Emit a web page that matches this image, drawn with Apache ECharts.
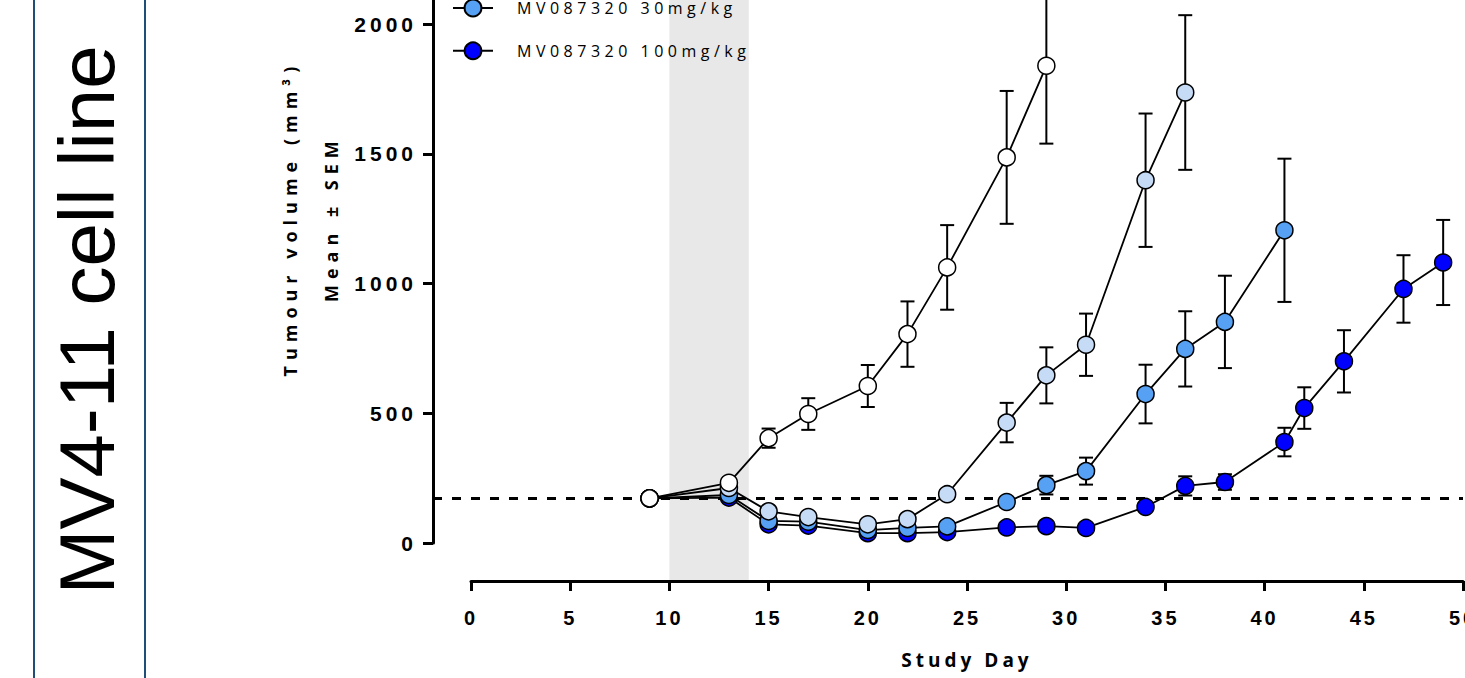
<!DOCTYPE html>
<html>
<head>
<meta charset="utf-8">
<script src="https://cdn.jsdelivr.net/npm/echarts@6/dist/echarts.min.js"></script>
<style>
  html, body { margin: 0; padding: 0; background: #fff; }
  #chart { width: 1465px; height: 678px; }
</style>
</head>
<body>
<div id="chart"></div>
<script>
// groups
var groupNames = ['Vehicle', 'MV087320 10mg/kg', 'MV087320 30mg/kg', 'MV087320 100mg/kg'];
var groupColors = ['#ffffff', '#c6dbf6', '#56a1f4', '#0000ff'];

// tumour volume, mean and SEM per study day
var vehicleDays = [9, 13, 15, 17, 20, 22, 24, 27, 29];
var vehicleMean = [172, 232, 404, 497, 605, 805, 1062, 1486, 1839];
var vehicleSem  = [0, 10, 37, 61, 81, 126, 163, 256, 300];

var dose10Days = [9, 13, 15, 17, 20, 22, 24, 27, 29, 31, 34, 36];
var dose10Mean = [172, 212, 122, 100, 72, 92, 188, 464, 646, 764, 1398, 1736];
var dose10Sem  = [0, 8, 10, 8, 6, 8, 15, 76, 108, 120, 257, 298];

var dose30Days = [9, 13, 15, 17, 20, 22, 24, 27, 29, 31, 34, 36, 38, 41];
var dose30Mean = [172, 185, 85, 82, 50, 58, 64, 158, 223, 277, 574, 748, 852, 1205];
var dose30Sem  = [0, 6, 8, 6, 5, 6, 8, 18, 36, 52, 113, 145, 178, 276];

var dose100Days = [9, 13, 15, 17, 20, 22, 24, 27, 29, 31, 34, 36, 38, 41, 42, 44, 47, 49];
var dose100Mean = [172, 175, 72, 67, 38, 38, 42, 60, 65, 58, 139, 220, 235, 389, 520, 700, 979, 1081];
var dose100Sem  = [0, 5, 6, 5, 4, 4, 5, 6, 7, 6, 12, 37, 30, 55, 80, 120, 130, 164];

var baselineVolume = 172;        // dashed reference line
var dosingWindow = [10, 14];     // shaded band
var xTickStep = 5, xMax = 50;
var yTickStep = 500, yTop = 2500;

// layout (pixels)
var W = 1465, H = 678;
var X0 = 471, X50 = 1463, Y0 = 543, Y2000 = 24;
var XAXIS_Y = 581, YAXIS_X = 433;
var pxDay = (X50 - X0) / xMax;
var pxVol = (Y0 - Y2000) / 2000;
var gridTop = Y0 - yTop * pxVol;
var gridRight = W - X50;

var groups = [
  [vehicleDays, vehicleMean, vehicleSem],
  [dose10Days, dose10Mean, dose10Sem],
  [dose30Days, dose30Mean, dose30Sem],
  [dose100Days, dose100Mean, dose100Sem]
];

function zip(days, a, b) {
  return days.map(function (d, i) { return b ? [d, a[i], b[i]] : [d, a[i]]; });
}

function renderErrorBar(params, api) {
  var x = api.value(0), m = api.value(1), s = api.value(2);
  if (!s) return null;
  var top = api.coord([x, m + s]);
  var bot = api.coord([x, m - s]);
  var hw = 7;
  var st = { stroke: '#000', lineWidth: 2 };
  return {
    type: 'group',
    children: [
      { type: 'line', shape: { x1: top[0], y1: top[1], x2: bot[0], y2: bot[1] }, style: st },
      { type: 'line', shape: { x1: top[0] - hw, y1: top[1], x2: top[0] + hw, y2: top[1] }, style: st },
      { type: 'line', shape: { x1: bot[0] - hw, y1: bot[1], x2: bot[0] + hw, y2: bot[1] }, style: st }
    ]
  };
}

var series = [];
// shaded dosing band + dashed baseline
series.push({
  type: 'line',
  name: 'ref',
  data: [],
  xAxisIndex: 0,
  yAxisIndex: 0,
  z: 1,
  markArea: {
    silent: true,
    z: 0,
    itemStyle: { color: '#e8e8e8' },
    data: [[{ xAxis: dosingWindow[0], yAxis: -(XAXIS_Y - Y0) / pxVol }, { xAxis: dosingWindow[1], yAxis: yTop }]]
  },
  markLine: {
    silent: true,
    z: 1,
    symbol: 'none',
    label: { show: false },
    lineStyle: { color: '#000', width: 3, type: [9, 10] },
    data: [{ yAxis: baselineVolume }]
  }
});

groups.forEach(function (g, i) {
  series.push({
    type: 'custom',
    name: groupNames[i] + ' SEM',
    xAxisIndex: 0,
    yAxisIndex: 0,
    z: 3,
    renderItem: renderErrorBar,
    data: zip(g[0], g[1], g[2])
  });
});

groups.forEach(function (g, i) {
  series.push({
    type: 'line',
    name: groupNames[i],
    xAxisIndex: 0,
    yAxisIndex: 0,
    z: 7 - i,
    symbol: 'circle',
    symbolSize: 17,
    data: zip(g[0], g[1]),
    lineStyle: { color: '#000', width: 1.8 },
    itemStyle: { color: groupColors[i], borderColor: '#000', borderWidth: 1.5 }
  });
});

var chart = echarts.init(document.getElementById('chart'), null, { renderer: 'svg' });

var gridBase = { containLabel: false, outerBoundsMode: 'none' };
function grid(o) { return Object.assign({}, gridBase, o); }

chart.setOption({
  animation: false,
  backgroundColor: '#fff',
  legend: {
    data: groupNames,
    orient: 'vertical',
    left: 447,
    top: -92,
    itemWidth: 40,
    itemHeight: 21,
    itemGap: 24,
    textStyle: { fontSize: 16, fontFamily: 'Open Sans', color: '#000', padding: [0, 0, 0, 19] }
  },
  grid: [
    grid({ left: YAXIS_X, right: gridRight, top: gridTop, bottom: H - XAXIS_Y }),
    grid({ left: X0, right: gridRight, top: gridTop, bottom: H - XAXIS_Y }),
    grid({ left: YAXIS_X, right: gridRight, top: gridTop, bottom: H - Y0 })
  ],
  xAxis: [
    { gridIndex: 0, type: 'value', show: false, min: -(X0 - YAXIS_X) / pxDay, max: xMax, splitLine: { show: false } },
    {
      gridIndex: 1, type: 'value', min: 0, max: xMax, interval: xTickStep,
      name: 'Study Day', nameLocation: 'middle', nameGap: 69,
      nameTextStyle: { fontSize: 19, fontWeight: 'bold', fontFamily: 'Open Sans', color: '#000' },
      axisLine: { onZero: false, lineStyle: { color: '#000', width: 3 } },
      axisTick: { length: 10, lineStyle: { color: '#000', width: 3 } },
      axisLabel: { margin: 27, fontSize: 20, fontWeight: 'bold', fontFamily: 'Liberation Sans', color: '#000' },
      splitLine: { show: false }
    },
    { gridIndex: 2, type: 'value', show: false, min: 0, max: xMax, splitLine: { show: false } }
  ],
  yAxis: [
    { gridIndex: 0, type: 'value', show: false, min: -(XAXIS_Y - Y0) / pxVol, max: yTop, splitLine: { show: false } },
    { gridIndex: 1, type: 'value', show: false, min: 0, max: 1, splitLine: { show: false } },
    {
      gridIndex: 2, type: 'value', min: 0, max: yTop, interval: yTickStep,
      name: 'Tumour volume (mm³)\nMean ± SEM', nameLocation: 'middle', nameGap: 82,
      nameTextStyle: { fontSize: 18, fontWeight: 'bold', fontFamily: 'Open Sans', color: '#000', lineHeight: 41 },
      axisLine: { onZero: false, lineStyle: { color: '#000', width: 3 } },
      axisTick: { length: 10, lineStyle: { color: '#000', width: 3 } },
      axisLabel: {
        margin: 16, fontSize: 21, fontWeight: 'bold', fontFamily: 'Liberation Sans', color: '#000',
        formatter: function (v) { return String(v); }
      },
      splitLine: { show: false }
    }
  ],
  graphic: [
    {
      type: 'rect',
      shape: { x: 34, y: -5, width: 111, height: H + 10 },
      style: { fill: 'none', stroke: '#1f4e79', lineWidth: 2 }
    },
    {
      type: 'text',
      x: 87, y: 320,
      rotation: Math.PI / 2,
      style: {
        text: 'MV4-11 cell line',
        fontSize: 78,
        fontFamily: 'Liberation Sans',
        fill: '#000',
        textAlign: 'center',
        textVerticalAlign: 'middle'
      }
    }
  ],
  series: series
});

// the original export has wide letter spacing on its small texts
var spacingBySize = { 16: 4.5, 18: 6, 19: 4, 20: 3, 21: 4 };
function applySpacing() {
  var texts = document.querySelectorAll('#chart svg text');
  Array.prototype.forEach.call(texts, function (t) {
    var fs = Math.round(parseFloat(getComputedStyle(t).fontSize));
    if (spacingBySize[fs]) t.style.letterSpacing = spacingBySize[fs] + 'px';
  });
}
chart.on('finished', applySpacing);
setTimeout(applySpacing, 50);
</script>
</body>
</html>
